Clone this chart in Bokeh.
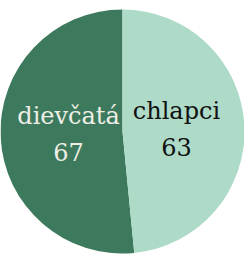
import math
from bokeh.plotting import figure
from bokeh.models import ColumnDataSource
from bokeh.core.properties import value
from bokeh.embed import file_html
from bokeh.resources import INLINE

categories = ["dievčatá", "chlapci"]
counts = [67, 63]
colors = ["#3d7a5d", "#aedac8"]
text_colors = ["#efeee6", "#111111"]

W, H = 244, 255
cx, cy, R = 122, 124, 122

total = sum(counts)
starts, ends, lx, ly = [], [], [], []
a = math.pi / 2
for c in counts:
    b = a + c / total * 2 * math.pi
    starts.append(a)
    ends.append(b)
    mid = (a + b) / 2
    lx.append(cx + 54 * math.cos(mid))
    ly.append(cy + 54 * math.sin(mid))
    a = b

src = ColumnDataSource(dict(start=starts, end=ends, color=colors, tcolor=text_colors,
                            label=categories, num=[str(c) for c in counts], lx=lx, ly=ly))

p = figure(width=W, height=H, x_range=(0, W), y_range=(0, H), output_backend="svg",
           toolbar_location=None, min_border=0, outline_line_color=None)
p.axis.visible = False
p.grid.visible = False
p.background_fill_color = None
p.border_fill_color = None

p.wedge(x=cx, y=cy, radius=R, start_angle="start", end_angle="end", direction="anticlock",
        fill_color="color", line_color=None, source=src)

p.text(x="lx", y="ly", text="label", text_color="tcolor", source=src,
       text_font=value("DejaVu Serif"), text_font_size="24px",
       text_align="center", text_baseline="alphabetic", y_offset=-18)
p.text(x="lx", y="ly", text="num", text_color="tcolor", source=src,
       text_font=value("DejaVu Serif"), text_font_size="24px",
       text_align="center", text_baseline="alphabetic", y_offset=18)

open("out.html", "w").write(file_html(p, INLINE))
